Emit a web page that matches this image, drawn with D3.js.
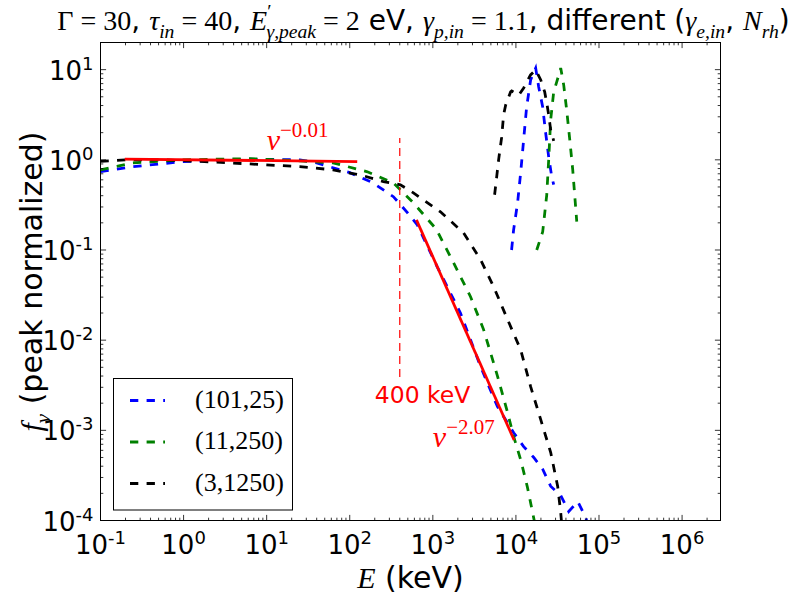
<!DOCTYPE html>
<html>
<head>
<meta charset="utf-8">
<script src="https://cdn.jsdelivr.net/npm/d3@7"></script>
<style>
  body { margin: 0; background: #fff; }
  text { font-family: "DejaVu Sans", sans-serif; }
</style>
</head>
<body>
<div id="main"></div>
<script>
// ---- data (E in keV, f peak normalized) ----
var blueE = [0.1, 0.245, 0.98, 6.3, 25, 40, 100, 190, 335, 494, 650, 1130, 2150, 3750, 6000, 9400, 12400, 16400, 21000, 26200, 34600, 43200, 55500, 69300, 76000];
var blueF = [0.74, 0.84, 0.955, 1.015, 1.0, 0.925, 0.72, 0.556, 0.39, 0.26, 0.19, 0.065, 0.020, 0.0051, 0.00183, 0.00094, 0.00066, 0.0005, 0.00037, 0.00024, 0.00019, 0.000126, 0.000162, 0.000108, 0.00008];
var blueBumpE = [8870, 9380, 10470, 11400, 12380, 13460, 15040, 17300, 18800, 21000, 22800, 24800, 27000, 28500];
var blueBumpF = [0.10, 0.167, 0.333, 0.717, 1.66, 3.86, 7.69, 10.4, 6.43, 3.86, 1.99, 1.08, 0.647, 0.53];

var greenE = [0.1, 0.245, 0.98, 6.3, 25, 63, 163, 335, 584, 1100, 1774, 2843, 4083, 6000, 7900, 9400, 11400, 13700, 16500, 17500];
var greenF = [0.774, 0.925, 1.0, 1.03, 0.975, 0.925, 0.736, 0.556, 0.333, 0.17, 0.0722, 0.0303, 0.0131, 0.004, 0.0016, 0.00085, 0.000474, 0.000238, 0.000103, 0.00008];
var greenBumpE = [17800, 21000, 23500, 24800, 26200, 28500, 31000, 34600, 37600, 40800, 44500, 48300, 54000];
var greenBumpF = [0.10, 0.159, 0.409, 1.0, 2.77, 5.66, 7.3, 10.4, 6.77, 3.58, 1.66, 0.774, 0.206];

var blackE = [0.1, 0.2, 0.6, 1.6, 6.3, 25, 63, 134, 254, 407, 584, 1236, 2339, 3753, 5390, 7943, 11400, 15040, 19860, 26240, 31840, 34590, 36000];
var blackF = [0.96, 1.0, 1.0, 0.96, 0.90, 0.84, 0.774, 0.68, 0.574, 0.528, 0.43, 0.265, 0.155, 0.078, 0.0392, 0.0169, 0.00785, 0.00305, 0.00132, 0.000567, 0.000238, 0.000123, 0.00008];
var blackBumpE = [5540, 5850, 6190, 6720, 7110, 7530, 8630, 8900, 10800, 12400, 15000, 17300, 19900, 22200, 23500, 24800, 26200, 28500];
var blackBumpF = [0.41, 0.63, 1.0, 1.75, 3.15, 4.06, 5.66, 5.8, 5.2, 6.27, 8.74, 9.9, 7.69, 5.66, 4.28, 3.15, 2.15, 1.62];

// power-law guides
var redFlatE = [0.196, 123];
var redFlatF = [1.017, 0.957];
var redSteepE = [635, 9500];
var redSteepF = [0.216, 0.00078];

var cutE = 400;            // vertical marker
var cutF = [0.0039, 1.75];

var legendLabels = ["(101,25)", "(11,250)", "(3,1250)"];
var legendColors = ["#0000ff", "#008000", "#000000"];

var xTickExps = [-1, 0, 1, 2, 3, 4, 5, 6];
var yTickExps = [-4, -3, -2, -1, 0, 1];

// ---- svg ----
var svgWidth = 801, svgHeight = 602;
var L = 100.5, R = 720.5, T = 42.5, B = 520.5;

var svg = d3.select("#main").append("svg")
  .attr("width", svgWidth).attr("height", svgHeight)
  .style("background", "#fff");

var x = d3.scaleLog().domain([0.1, 2.9e6]).range([L, R]);
var y = d3.scaleLog().domain([1e-4, 20]).range([B, T]);

svg.append("clipPath").attr("id", "plotclip")
  .append("rect").attr("x", L).attr("y", T).attr("width", R - L).attr("height", B - T);

function zip(es, fs) { return es.map(function(e, i) { return [e, fs[i]]; }); }
var line = d3.line().x(function(d) { return x(d[0]); }).y(function(d) { return y(d[1]); });

var plot = svg.append("g").attr("clip-path", "url(#plotclip)");

var series = [
  {d: zip(blueE, blueF), c: legendColors[0]},
  {d: zip(blueBumpE, blueBumpF), c: legendColors[0]},
  {d: zip(greenE, greenF), c: legendColors[1]},
  {d: zip(greenBumpE, greenBumpF), c: legendColors[1]},
  {d: zip(blackE, blackF), c: legendColors[2]},
  {d: zip(blackBumpE, blackBumpF), c: legendColors[2]}
];

plot.selectAll("path.curve").data(series).enter().append("path")
  .attr("class", "curve")
  .attr("d", function(s) { return line(s.d); })
  .style("fill", "none")
  .style("stroke", function(s) { return s.c; })
  .style("stroke-width", 2.78)
  .style("stroke-dasharray", "8.3,8.3");

// red guides
[zip(redFlatE, redFlatF), zip(redSteepE, redSteepF)].forEach(function(d) {
  plot.append("path").attr("d", line(d))
    .style("fill", "none").style("stroke", "#ff0000").style("stroke-width", 2.78);
});
plot.append("line")
  .attr("x1", x(cutE)).attr("x2", x(cutE))
  .attr("y1", y(cutF[0])).attr("y2", y(cutF[1]))
  .style("stroke", "#ff0000").style("stroke-width", 1.2).style("stroke-dasharray", "8,5");

// ---- ticks ----
function minors(lo, hi) {
  var out = [];
  for (var k = Math.floor(Math.log10(lo)); k <= Math.ceil(Math.log10(hi)); k++) {
    for (var m = 2; m <= 9; m++) {
      var v = m * Math.pow(10, k);
      if (v > lo && v < hi) out.push(v);
    }
  }
  return out;
}
var xMajor = xTickExps.map(function(e) { return Math.pow(10, e); });
var yMajor = yTickExps.map(function(e) { return Math.pow(10, e); });
var xMinor = minors(0.1, 2.9e6), yMinor = minors(1e-4, 20);

function ticks(axisGen, tx, ty, vals, size) {
  svg.append("g").attr("transform", "translate(" + tx + "," + ty + ")")
    .call(axisGen.tickValues(vals).tickSize(size).tickFormat(function() { return ""; }))
    .call(function(g) { g.select(".domain").remove(); })
    .selectAll("line").attr("stroke", "#000").attr("stroke-width", 0.8);
}
ticks(d3.axisBottom(x), -0.5, B, xMajor, -5.6);
ticks(d3.axisBottom(x), -0.5, B, xMinor, -2.8);
ticks(d3.axisTop(x), -0.5, T, xMajor, -5.6);
ticks(d3.axisTop(x), -0.5, T, xMinor, -2.8);
ticks(d3.axisLeft(y), L, -0.5, yMajor, -5.6);
ticks(d3.axisLeft(y), L, -0.5, yMinor, -2.8);
ticks(d3.axisRight(y), R, -0.5, yMajor, -5.6);
ticks(d3.axisRight(y), R, -0.5, yMinor, -2.8);

svg.append("rect").attr("x", L).attr("y", T).attr("width", R - L).attr("height", B - T)
  .style("fill", "none").style("stroke", "#000").style("stroke-width", 1);

// tick labels
function powLabel(t, e) {
  t.append("tspan").text("10");
  t.append("tspan").attr("dy", -10).style("font-size", "18px").text(String(e));
}
xTickExps.forEach(function(e) {
  var t = svg.append("text").attr("x", x(Math.pow(10, e))).attr("y", B + 33)
    .attr("text-anchor", "middle").style("font-size", "26px");
  powLabel(t, e);
});
yTickExps.forEach(function(e) {
  var t = svg.append("text").attr("x", L - 7).attr("y", y(Math.pow(10, e)) + 10)
    .attr("text-anchor", "end").style("font-size", "26px");
  powLabel(t, e);
});

// ---- rich text helper: segments [text, font, shift, dx] ----
var SERIF = "'Liberation Serif', 'DejaVu Serif', serif";
function rich(t, segs, base) {
  var prev = 0;
  segs.forEach(function(s) {
    var shift = s[2] === "sub" ? base * 0.28 : s[2] === "sup" ? -base * 0.42 : 0;
    var sp = t.append("tspan").attr("dy", shift - prev).text(s[0]);
    if (s[3]) sp.attr("dx", s[3]);
    prev = shift;
    var size = s[2] ? base * 0.7 : base;
    sp.style("font-size", size + "px");
    if (s[1] === "it") sp.style("font-family", SERIF).style("font-style", "italic");
    else if (s[1] === "rm") sp.style("font-family", SERIF);
    else sp.style("font-family", "'DejaVu Sans', sans-serif");
  });
}

// title
var title = svg.append("text").attr("x", (L + R) / 2 + 13).attr("y", 30).attr("text-anchor", "middle");
rich(title, [
  ["\u0393", "rm"], [" = 30", "rm"], [", ", "sans"],
  ["\u03c4", "it"], ["in", "it", "sub"], [" = 40", "rm"], [", ", "sans"],
  ["E", "it"], ["\u2032", "rm", "sup"], ["\u03b3,peak", "it", "sub", -5], [" = 2", "rm"], [" eV, ", "sans"],
  ["\u03b3", "it"], ["p,in", "it", "sub"], [" = 1.1", "rm"], [", different (", "sans"],
  ["\u03b3", "it"], ["e,in", "it", "sub"], [", ", "sans"],
  ["N", "it"], ["rh", "it", "sub"], [")", "sans"]
], 28);

// axis labels
var xl = svg.append("text").attr("x", (L + R) / 2).attr("y", 588).attr("text-anchor", "middle");
rich(xl, [["E", "it"], [" (keV)", "sans"]], 30);
var yl = svg.append("text").attr("transform", "translate(42," + ((T + B) / 2) + ") rotate(-90)")
  .attr("text-anchor", "middle");
rich(yl, [["f", "it"], ["\u03bd", "it", "sub"], [" (peak normalized)", "sans"]], 30);

// annotations (data coords)
var notes = [
  {e: 10, f: 1.29, segs: [["\u03bd", "it"], ["\u22120.01", "rm", "sup"]], size: 30},
  {e: 1000, f: 6.6e-4, segs: [["\u03bd", "it"], ["\u22122.07", "rm", "sup"]], size: 30},
  {e: 200, f: 2e-3, segs: [["400 keV", "sans"]], size: 23.5}
];
notes.forEach(function(n) {
  var t = svg.append("text").attr("x", x(n.e)).attr("y", y(n.f)).style("fill", "#ff0000");
  rich(t, n.segs, n.size);
});

// ---- legend ----
var lg = svg.append("g");
lg.append("rect").attr("x", 113.5).attr("y", 378.5).attr("width", 179).attr("height", 131.5)
  .style("fill", "#fff").style("stroke", "#000").style("stroke-width", 1);
legendLabels.forEach(function(lab, i) {
  var ly = 400.5 + i * 41.5;
  lg.append("line").attr("x1", 130).attr("x2", 165).attr("y1", ly).attr("y2", ly)
    .style("stroke", legendColors[i]).style("stroke-width", 2.78).style("stroke-dasharray", "8.3,8.3");
  lg.append("text").attr("x", 195).attr("y", ly + 7)
    .style("font-family", SERIF).style("font-size", "26px").text(lab);
});
</script>
</body>
</html>
